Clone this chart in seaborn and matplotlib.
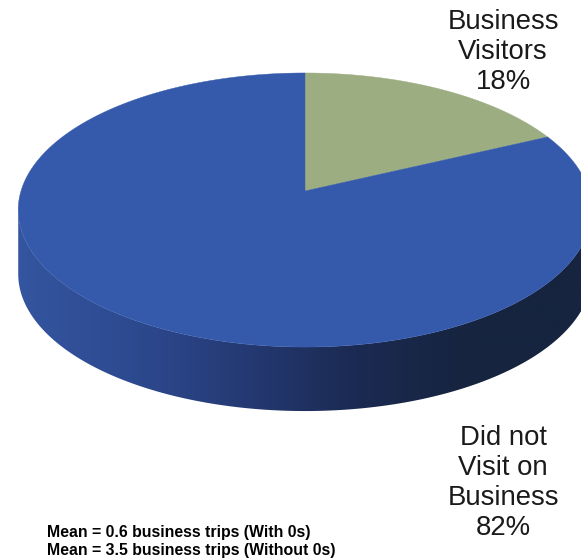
import numpy as np
import matplotlib
matplotlib.use("Agg")
import matplotlib.pyplot as plt
from matplotlib.patches import Polygon
import seaborn as sns

categories = ["Business\nVisitors", "Did not\nVisit on\nBusiness"]
shares = [18, 82]
mean_with_zeros = 0.6
mean_without_zeros = 3.5
slice_colors = ["#9CAD82", "#355AAC"]
side_stops = ["#34559F", "#2D4A90", "#253A74", "#1B2A52", "#16243F", "#16243F"]

sns.set_theme(style="white")
plt.rcParams["font.family"] = ["Liberation Sans", "DejaVu Sans"]

W, H = 581, 559
fig = plt.figure(figsize=(W / 100, H / 100), dpi=100)
ax = fig.add_axes([0, 0, 1, 1])

# Perspective view of a flat disc: the far edge is compressed, the near edge stretched.
CX, CY, AX, BY, K = 305.0, 191.0, 284.0, 134.4, 0.1387
DEPTH = 64.0


def project(theta, radius=1.0):
    u = radius * np.sin(theta)
    v = radius * np.cos(theta)
    d = 1 + K * v
    return CX + AX * u / d, CY - BY * v / d


# Rim of the disc: a horizontal colour ramp clipped to the band under the front edge,
# running between the leftmost and rightmost points of the outline.
ramp = np.array(sns.blend_palette(side_stops, 512))[None, :, :3]
rim = np.linspace(0, 2 * np.pi, 2881)
rx, ry = project(rim)
right, left = np.argmax(rx), np.argmin(rx)
rx, ry = rx[right:left + 1], ry[right:left + 1]
band = Polygon(np.c_[np.r_[rx, rx[::-1]], np.r_[ry, ry[::-1] + DEPTH]],
               closed=True, transform=ax.transData, facecolor="none", edgecolor="none")
ax.add_patch(band)
img = ax.imshow(ramp, extent=(18, 581, 420, 100), aspect="auto", interpolation="bilinear", zorder=1)
img.set_clip_path(band)

# Top face: one wedge per category, clockwise from twelve o'clock.
edges = np.cumsum([0] + shares) / sum(shares) * 2 * np.pi
for start, stop, color in zip(edges[:-1], edges[1:], slice_colors):
    th = np.linspace(start, stop, 600)
    px, py = project(th)
    ax.fill(np.r_[CX, px], np.r_[CY, py], facecolor=color, edgecolor=color,
            linewidth=0.3, zorder=2)

label_pos = [(503, 52), (503, 483)]
for name, share, (lx, ly) in zip(categories, shares, label_pos):
    ax.text(lx, ly, f"{name}\n{share}%", ha="center", va="center", fontsize=19.8,
            color="#1a1a1a", linespacing=1.2, zorder=3)

ax.text(47, 532, f"Mean = {mean_with_zeros} business trips (With 0s)", fontsize=11.4,
        fontweight="bold", color="black", va="center", zorder=3)
ax.text(47, 551, f"Mean = {mean_without_zeros} business trips (Without 0s)", fontsize=11.4,
        fontweight="bold", color="black", va="center", zorder=3)

ax.set_xlim(0, W)
ax.set_ylim(H, 0)
ax.axis("off")

fig.savefig("out.png", dpi=100, facecolor="white")
